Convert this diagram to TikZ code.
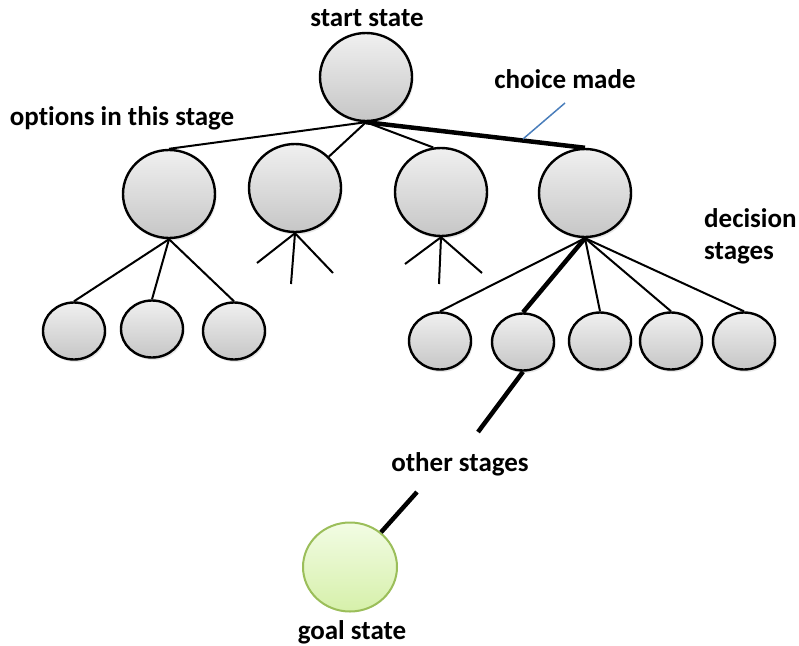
\documentclass[tikz,border=0pt]{standalone}
\usepackage{fontspec}
\setmainfont{Carlito}[RawFeature={-liga}]
\usetikzlibrary{shapes.geometric,shadows}

\definecolor{balltop}{RGB}{240,240,240}
\definecolor{ballbot}{RGB}{198,198,198}
\definecolor{goaltop}{RGB}{242,252,228}
\definecolor{goalbot}{RGB}{214,240,170}
\definecolor{goaledge}{RGB}{155,190,90}
\definecolor{pointer}{RGB}{74,126,187}

\tikzset{
  ball/.style={ellipse, draw=black, line width=2.4pt, inner sep=0pt,
    top color=balltop, bottom color=ballbot,
    drop shadow={opacity=0.18, shadow xshift=1.5pt, shadow yshift=-2.5pt}},
  bigball/.style={ball, minimum width=92pt, minimum height=88pt},
  smallball/.style={ball, minimum width=62pt, minimum height=57pt},
  goalball/.style={ellipse, draw=goaledge, line width=2pt, inner sep=0pt,
    top color=goaltop, bottom color=goalbot,
    minimum width=94pt, minimum height=89pt},
  edge/.style={line width=2pt},
  chosen/.style={line width=4.5pt},
  label/.style={font=\fontsize{27}{32}\selectfont\bfseries, inner sep=0pt}
}

\begin{document}
\begin{tikzpicture}[x=1pt, y=-1pt]
\useasboundingbox (0,0) rectangle (799,645);

% start state
\node[bigball] (s) at (366,77) {};

% options of the first stage
\node[bigball] (c1) at (169,194) {};
\node[bigball] (c2) at (295,188) {};
\node[bigball] (c3) at (441,192) {};
\node[bigball] (c4) at (585,193) {};

% options under the first node
\node[smallball] (l1) at (74,331) {};
\node[smallball] (l2) at (152,329) {};
\node[smallball] (l3) at (234,331) {};

% options under the chosen node
\node[smallball] (r1) at (440,341) {};
\node[smallball] (r2) at (523,342) {};
\node[smallball] (r3) at (600,341) {};
\node[smallball] (r4) at (671,341) {};
\node[smallball] (r5) at (744,341) {};

% goal state
\node[goalball] (g) at (350,567) {};

% open branches
\coordinate (a1) at (257,263);
\coordinate (a2) at (291,284);
\coordinate (a3) at (333,273);
\coordinate (b1) at (405,264);
\coordinate (b2) at (439,284);
\coordinate (b3) at (482,273);
\coordinate (pathend) at (478,432);
\coordinate (pathin) at (417,492);
\coordinate (tipA) at (565,103);
\coordinate (tipB) at (523,139);

% connectors
\draw[edge] (s.south) -- (c1.north);
\draw[edge] (s.south) -- (c2);
\draw[edge] (s.south) -- (c3.100);
\draw[chosen] (s.south) -- (c4.north);

\draw[edge] (c1.south) -- (l1.north);
\draw[edge] (c1.south) -- (l2.north);
\draw[edge] (c1.south) -- (l3.north);

\draw[edge] (c2.south) -- (a1);
\draw[edge] (c2.south) -- (a2);
\draw[edge] (c2.south) -- (a3);
\draw[edge] (c3.south) -- (b1);
\draw[edge] (c3.south) -- (b2);
\draw[edge] (c3.south) -- (b3);

\draw[edge] (c4.south) -- (r1.north);
\draw[chosen] (c4.south) -- (r2.north);
\draw[edge] (c4.south) -- (r3.north);
\draw[edge] (c4.south) -- (r4.north);
\draw[edge] (c4.south) -- (r5.north);

\draw[chosen] (r2.south) -- (pathend);
\draw[chosen] (pathin) -- (g);

\draw[pointer, line width=1.5pt] (tipA) -- (tipB);

% labels
\node[label] (tstart) at (367,18) {start state};
\node[label] (topt) at (122,118) {options in this stage};
\node[label] (tchoice) at (565,79) {choice made};
\node[label, align=left, anchor=north west] (tdec) at (704,208) {decision\\stages};
\node[label] (tother) at (460,464) {other stages};
\node[label] (tgoal) at (352,632) {goal state};
\end{tikzpicture}
\end{document}
